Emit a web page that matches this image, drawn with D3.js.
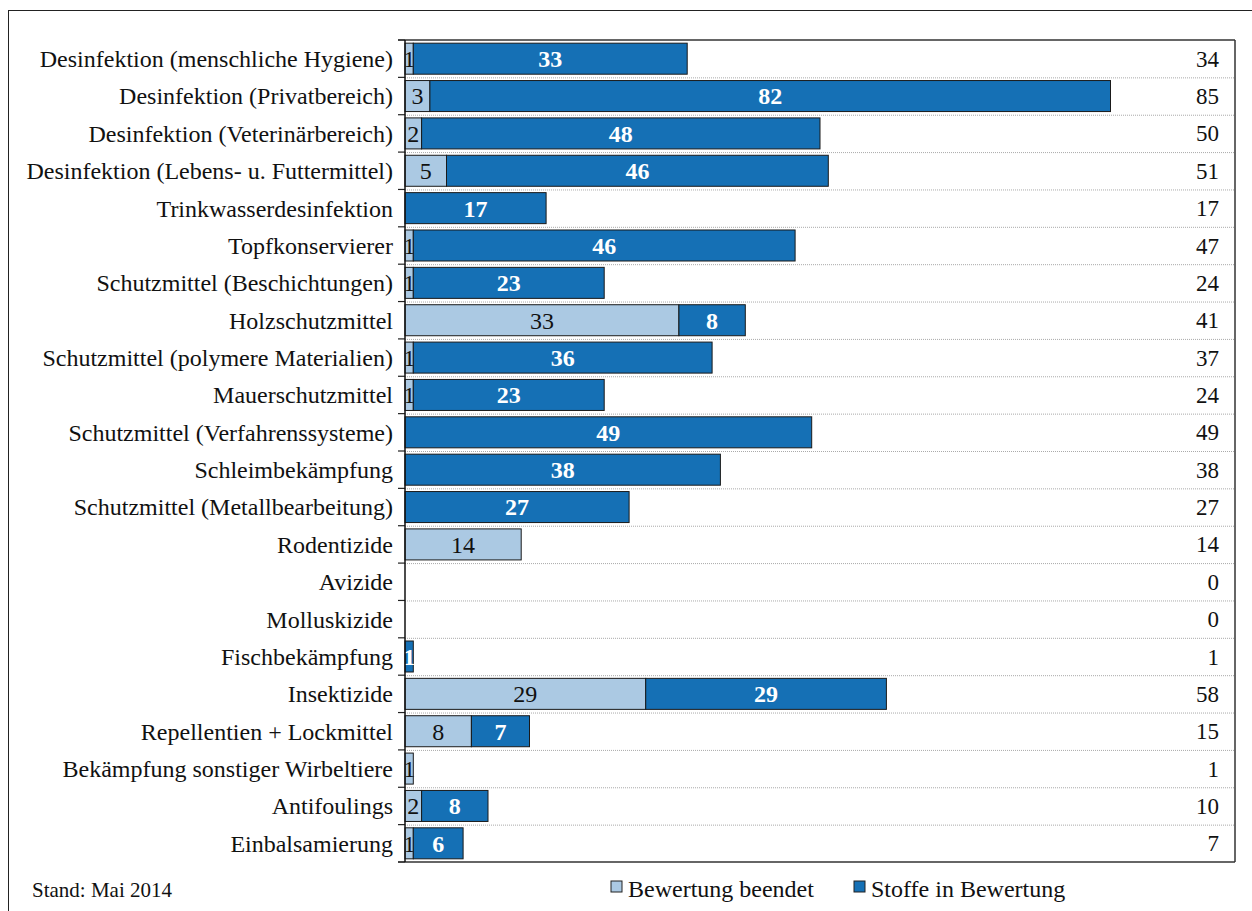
<!DOCTYPE html>
<html><head><meta charset="utf-8">
<script src="https://cdn.jsdelivr.net/npm/d3@7"></script>
<style>body{margin:0;background:#fff}svg{display:block}text{font-family:"Liberation Serif","Times New Roman",serif}</style>
</head><body>
<svg id="c" width="1252" height="911"></svg>
<script>
const categories = ["Desinfektion (menschliche Hygiene)","Desinfektion (Privatbereich)","Desinfektion (Veterinärbereich)","Desinfektion (Lebens- u. Futtermittel)","Trinkwasserdesinfektion","Topfkonservierer","Schutzmittel (Beschichtungen)","Holzschutzmittel","Schutzmittel (polymere Materialien)","Mauerschutzmittel","Schutzmittel (Verfahrenssysteme)","Schleimbekämpfung","Schutzmittel (Metallbearbeitung)","Rodentizide","Avizide","Molluskizide","Fischbekämpfung","Insektizide","Repellentien + Lockmittel","Bekämpfung sonstiger Wirbeltiere","Antifoulings","Einbalsamierung"];
const beendet = [1,3,2,5,0,1,1,33,1,1,0,0,0,14,0,0,0,29,8,1,2,1];
const inBewertung = [33,82,48,46,17,46,23,8,36,23,49,38,27,0,0,0,1,29,7,0,8,6];
const seriesNames = ["Bewertung beendet","Stoffe in Bewertung"];
const colors = ["#abc9e3","#1570b5"];
const footnote = "Stand: Mai 2014";

const svg = d3.select("#c");
const L=405, R=1235, T=40, B=862;
const x = d3.scaleLinear().domain([0,100]).range([L,R]);
const y = d3.scaleBand().domain(categories).range([T,B]).paddingInner(0.17).paddingOuter(0.085);
const step = y.step();

svg.append("rect").attr("x",8.5).attr("y",10.5).attr("width",1260).attr("height",920).attr("fill","none").attr("stroke","#222").attr("stroke-width",1);

const bounds = categories.map((c,i)=>T+i*step).slice(1);
svg.selectAll(".grid").data(bounds).enter().append("line")
  .attr("x1",L).attr("x2",R).attr("y1",d=>d+0.5).attr("y2",d=>d+0.5)
  .attr("stroke","#aaa").attr("stroke-width",1).attr("stroke-dasharray","1,1");
svg.selectAll(".tk").data([T,...bounds,B]).enter().append("line")
  .attr("x1",L-7).attr("x2",L).attr("y1",d=>d).attr("y2",d=>d).attr("stroke","#222").attr("stroke-width",1.2);

const stack = d3.stack().keys([0,1]).value((d,k)=>d[k])(categories.map((c,i)=>({cat:c,0:beendet[i],1:inBewertung[i]})));
stack.forEach((s,k)=>{
  const g = svg.append("g");
  s.forEach(d=>{
    const v = d[1]-d[0];
    if(v<=0) return;
    const yy = y(d.data.cat);
    g.append("rect").attr("x",x(d[0])).attr("y",yy).attr("width",x(d[1])-x(d[0])).attr("height",y.bandwidth())
      .attr("fill",colors[k]).attr("stroke","#1a1a1a").attr("stroke-width",1);
    g.append("text").attr("x",(x(d[0])+x(d[1]))/2).attr("y",yy+y.bandwidth()/2).attr("dy","0.35em")
      .attr("text-anchor","middle").attr("font-size",24)
      .attr("font-weight",k===1?"bold":"normal").attr("fill",k===1?"#fff":"#111").text(v);
  });
});

svg.append("line").attr("x1",L-7).attr("x2",R).attr("y1",T).attr("y2",T).attr("stroke","#333").attr("stroke-width",1.5);
svg.append("line").attr("x1",L-7).attr("x2",R).attr("y1",B).attr("y2",B).attr("stroke","#333").attr("stroke-width",1.5);
svg.append("line").attr("x1",R).attr("x2",R).attr("y1",T).attr("y2",B).attr("stroke","#333").attr("stroke-width",1.5);
svg.append("line").attr("x1",L).attr("x2",L).attr("y1",T).attr("y2",B).attr("stroke","#111").attr("stroke-width",1.5);

svg.selectAll(".cl").data(categories).enter().append("text")
  .attr("x",L-12).attr("y",d=>y(d)+y.bandwidth()/2).attr("dy","0.35em").attr("text-anchor","end")
  .attr("font-size",24).attr("fill","#111").text(d=>d);
svg.selectAll(".tot").data(categories).enter().append("text")
  .attr("x",R-16).attr("y",d=>y(d)+y.bandwidth()/2).attr("dy","0.35em").attr("text-anchor","end")
  .attr("font-size",23).attr("fill","#111").text((d,i)=>beendet[i]+inBewertung[i]);

svg.append("text").attr("x",32).attr("y",897).attr("font-size",21).attr("fill","#111").text(footnote);
const lx=[611,854];
seriesNames.forEach((n,k)=>{
  svg.append("rect").attr("x",lx[k]).attr("y",881).attr("width",11).attr("height",11).attr("fill",colors[k]).attr("stroke","#222").attr("stroke-width",1);
  svg.append("text").attr("x",lx[k]+17).attr("y",897).attr("font-size",24).attr("fill","#111").text(n);
});
</script>
</body></html>
